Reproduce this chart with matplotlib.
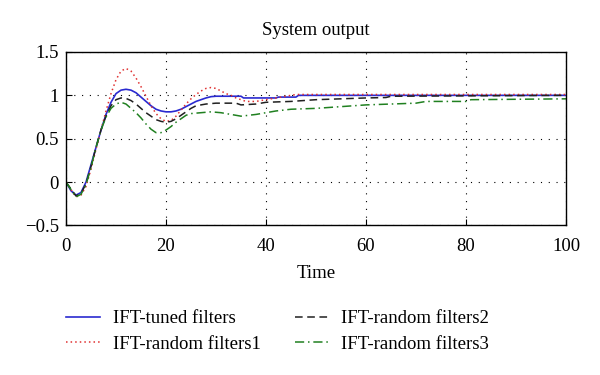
import matplotlib
matplotlib.use("Agg")
import matplotlib.pyplot as plt
import numpy as np

plt.rcParams['font.family'] = ['Liberation Serif', 'DejaVu Serif']

t_tuned = [0,1,2,3,4,5,6,7,8,9,10,11,12,13,14,15,16,17,18,19,20,21,22,23,24,25,26,27,28,29,30,35,35.5,42,42.5,46,46.5,100]
y_tuned = [0,-0.1,-0.15,-0.12,0.0,0.2,0.4,0.6,0.78,0.92,1.02,1.06,1.07,1.06,1.03,0.98,0.93,0.88,0.84,0.82,0.81,0.81,0.82,0.84,0.87,0.9,0.93,0.95,0.97,0.985,0.99,0.99,0.97,0.97,0.98,0.98,1.0,1.0]

t_r1 = [0,2,3,4,5,6,7,8,9,10,11,12,13,14,15,16,17,18,19,20,21,22,23,24,25,26,27,28,29,30,31,32,33,34,35,36,38,40,42,44,46,50,100]
y_r1 = [0,-0.17,-0.15,-0.05,0.15,0.38,0.6,0.82,1.02,1.18,1.28,1.31,1.28,1.2,1.1,0.99,0.88,0.79,0.73,0.7,0.71,0.76,0.83,0.9,0.96,1.01,1.05,1.08,1.09,1.08,1.05,1.02,1.0,0.97,0.95,0.93,0.93,0.95,0.97,0.99,1.01,1.01,1.01]

t_r2 = [0,2,3,4,5,6,7,8,9,10,11,12,13,14,15,16,17,18,19,20,21,22,23,24,25,26,28,30,34,35,38,40,45,50,55,60,64,65,100]
y_r2 = [0,-0.16,-0.13,-0.02,0.18,0.4,0.6,0.76,0.88,0.95,0.97,0.965,0.94,0.9,0.85,0.8,0.76,0.72,0.7,0.69,0.7,0.73,0.77,0.81,0.85,0.88,0.9,0.91,0.91,0.89,0.9,0.92,0.93,0.95,0.96,0.97,0.975,0.99,1.0]

t_r3 = [0,2,3,4,5,6,7,8,9,10,11,12,13,14,15,16,17,18,19,20,21,22,23,24,25,27,29,31,33,35,38,40,42,45,50,55,60,65,70,72,80,81,100]
y_r3 = [0,-0.17,-0.14,-0.03,0.17,0.4,0.6,0.75,0.85,0.9,0.92,0.9,0.85,0.8,0.74,0.67,0.61,0.57,0.57,0.6,0.64,0.69,0.73,0.77,0.79,0.8,0.81,0.8,0.78,0.76,0.78,0.8,0.82,0.84,0.85,0.87,0.89,0.9,0.91,0.93,0.93,0.95,0.96]

labels = ['IFT-tuned filters', 'IFT-random filters1', 'IFT-random filters2', 'IFT-random filters3']
x_ticks = [0, 20, 40, 60, 80, 100]
y_ticks = [-0.5, 0, 0.5, 1, 1.5]
y_ticklabels = ['\u22120.5', '0', '0.5', '1', '1.5']

fig = plt.figure(figsize=(6, 3.75), dpi=100)
ax = fig.add_axes([0.11, 0.3987, 0.8333, 0.4627])

l1, = ax.plot(t_tuned, y_tuned, color='#2a2ad0', lw=1.2, ls='-')
l2, = ax.plot(t_r1, y_r1, color='#e03030', lw=1.1, ls=(0, (1, 2)))
l3, = ax.plot(t_r2, y_r2, color='#202020', lw=1.1, ls=(0, (5, 3)))
l4, = ax.plot(t_r3, y_r3, color='#208020', lw=1.1, ls=(0, (6, 2.5, 1, 2.5)))

ax.set_xlim(0, 100)
ax.set_ylim(-0.5, 1.5)
ax.set_xticks(x_ticks)
ax.set_yticks(y_ticks)
ax.set_yticklabels(y_ticklabels)
ax.tick_params(direction='in', labelsize=13.5, length=4, width=0.8, pad=5)
ax.tick_params(axis='x', pad=9)
ax.grid(True, color='black', ls=(0, (1, 6)), lw=0.8)
for s in ax.spines.values():
    s.set_linewidth(1.0)
ax.set_title('System output', fontsize=13.5, pad=12)
ax.set_xlabel('Time', fontsize=13.5, labelpad=7)

fig.legend([l1, l2, l3, l4], labels, loc='upper left', bbox_to_anchor=(66/600, 1 - 310/375),
           ncol=2, frameon=False, fontsize=13.5, handlelength=1.8, columnspacing=1.8,
           labelspacing=0.45, handletextpad=0.7, borderpad=0, borderaxespad=0)

fig.savefig('out.png', dpi=100, facecolor='white')
